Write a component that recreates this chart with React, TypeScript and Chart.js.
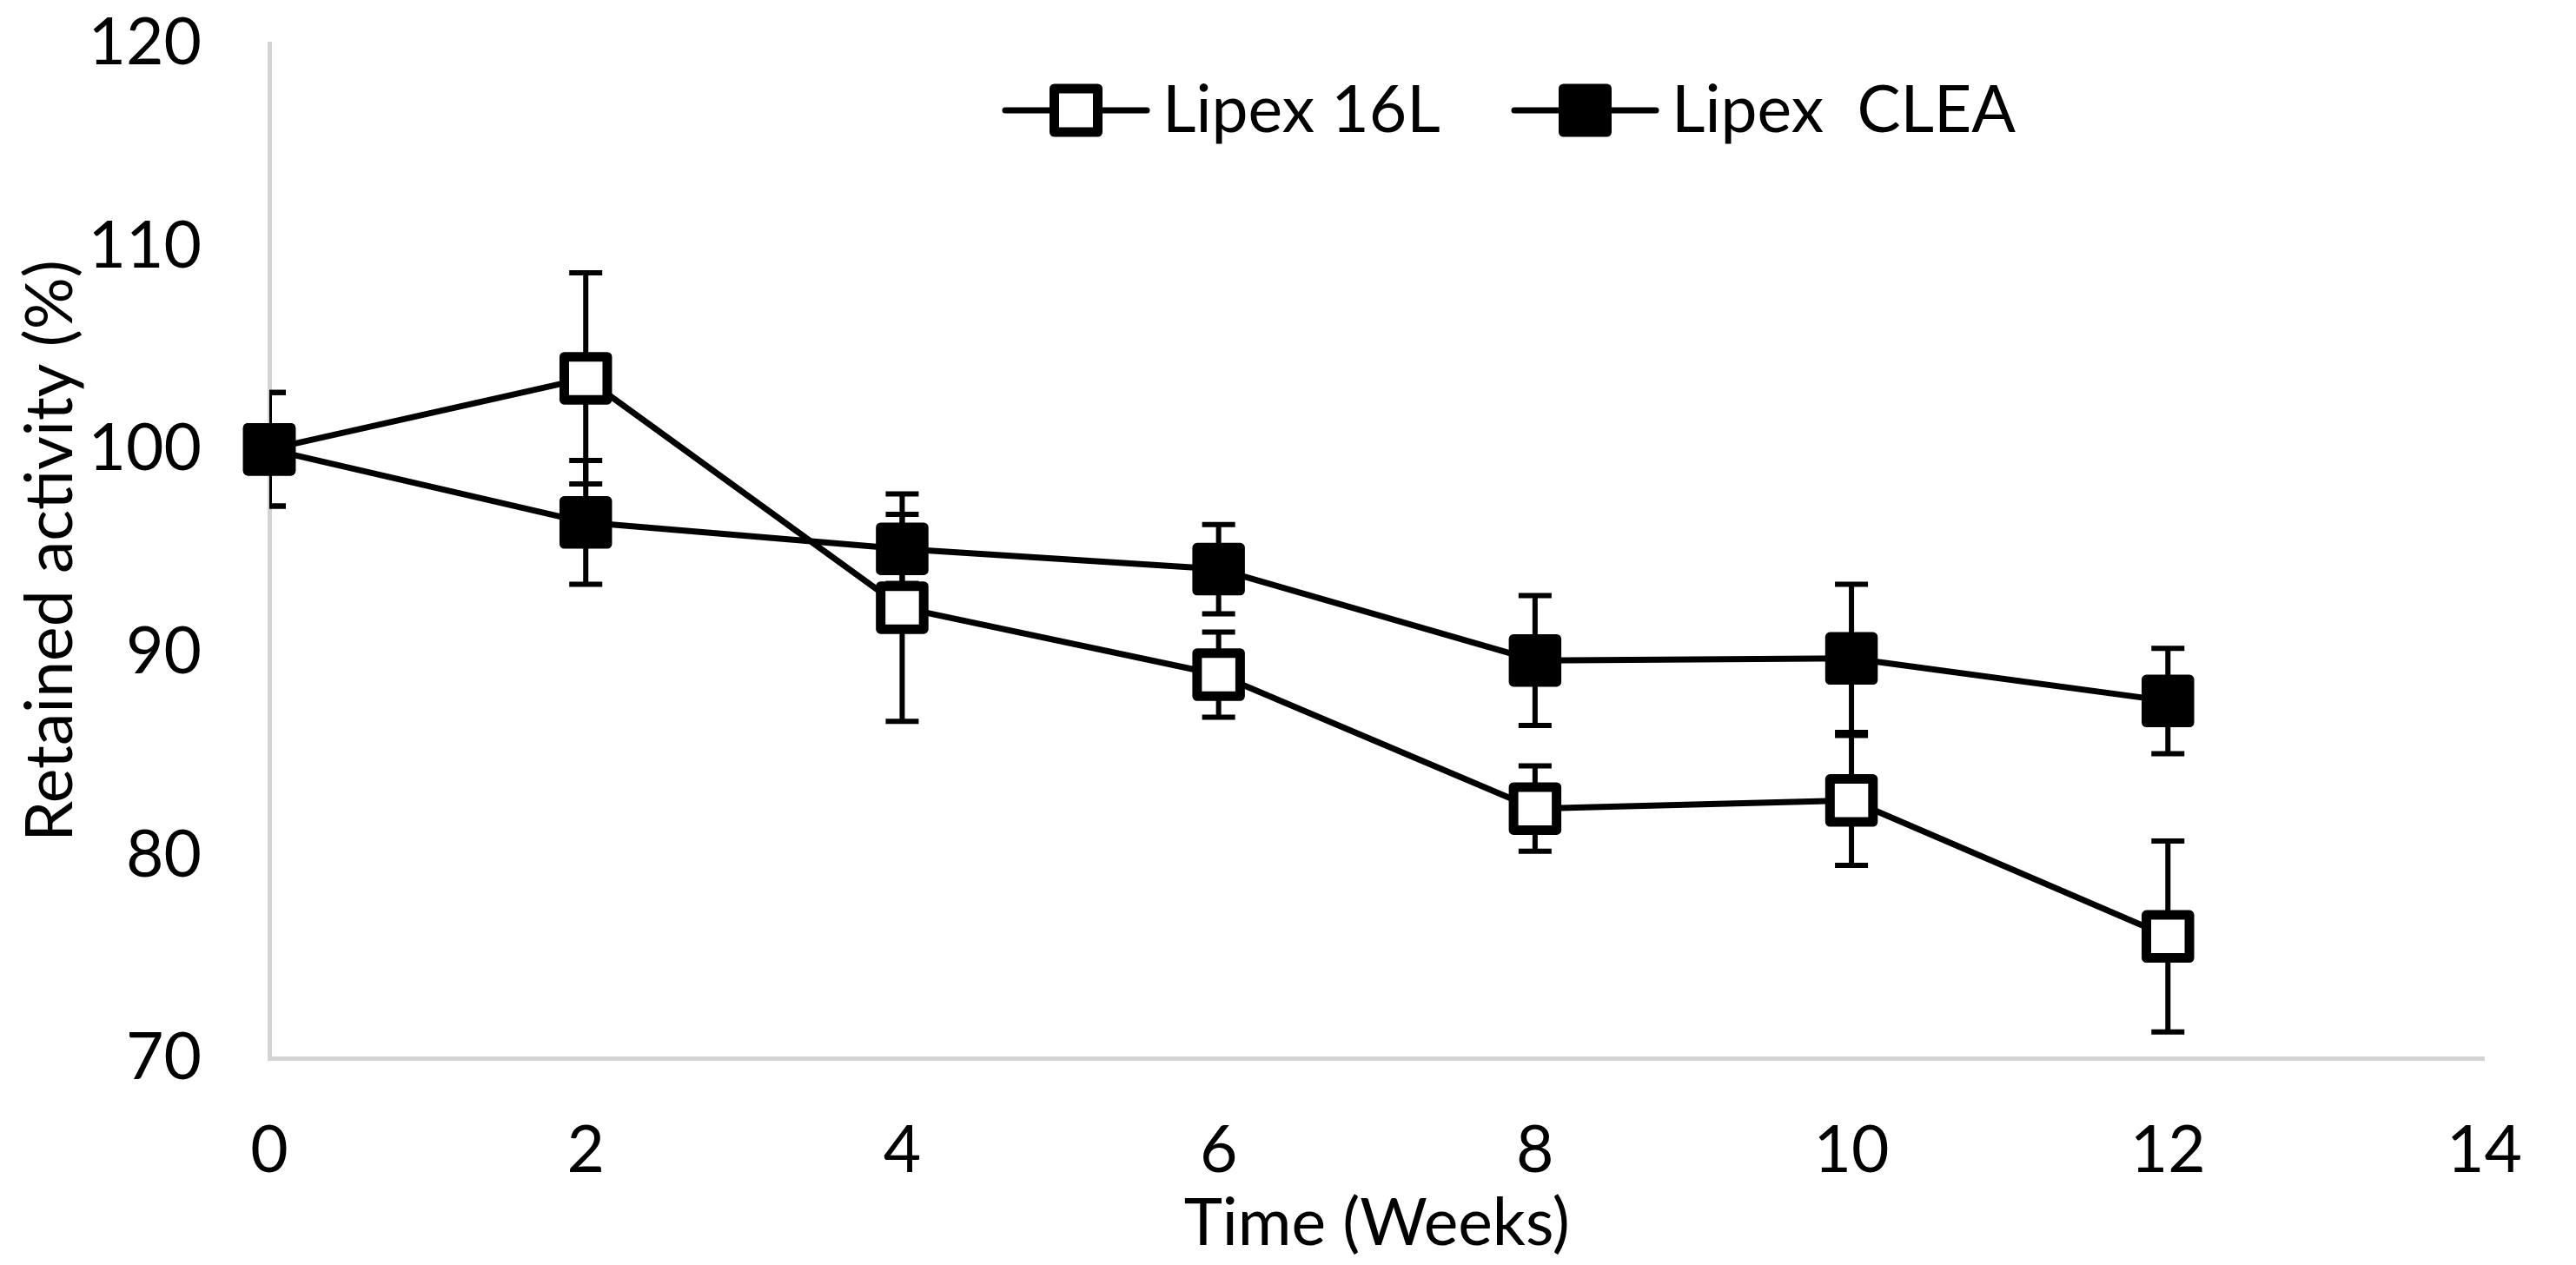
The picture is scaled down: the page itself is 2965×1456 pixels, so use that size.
import { useEffect, useRef } from 'react';
import { Chart, registerables, Plugin } from 'chart.js';

Chart.register(...registerables);

// weeks of storage
const weeks = [0, 2, 4, 6, 8, 10, 12];
// retained activity (%) and std. deviation
const lipex16L = [100, 103.5, 92.2, 88.9, 82.3, 82.7, 76.0];
const lipex16LErr = [2.8, 5.2, 5.6, 2.1, 2.1, 3.2, 4.7];
const lipexClea = [100, 96.4, 95.1, 94.1, 89.6, 89.7, 87.6];
const lipexCleaErr = [2.8, 3.05, 1.7, 2.2, 3.2, 3.65, 2.6];

const seriesNames = ['Lipex 16L', 'Lipex  CLEA'];
const seriesFill = ['#ffffff', '#000000'];
const errors = [lipex16LErr, lipexCleaErr];

const xTitle = 'Time (Weeks)';
const yTitle = 'Retained activity (%)';

const FONT = 'Lato';

const errorBars: Plugin<'line'> = {
  id: 'errorBars',
  beforeDatasetsDraw(chart) {
    const { ctx, chartArea } = chart;
    const xs = chart.scales.x;
    const ys = chart.scales.y;
    ctx.save();
    ctx.beginPath();
    ctx.rect(chartArea.left, 0, chartArea.right - chartArea.left, chart.height);
    ctx.clip();
    ctx.strokeStyle = '#000';
    ctx.lineWidth = 6;
    ctx.lineCap = 'butt';
    chart.data.datasets.forEach((ds, di) => {
      const errs = errors[di];
      (ds.data as { x: number; y: number }[]).forEach((p, i) => {
        const px = xs.getPixelForValue(p.x);
        const top = ys.getPixelForValue(p.y + errs[i]);
        const bot = ys.getPixelForValue(p.y - errs[i]);
        ctx.beginPath();
        ctx.moveTo(px, top);
        ctx.lineTo(px, bot);
        ctx.moveTo(px - 19, top);
        ctx.lineTo(px + 19, top);
        ctx.moveTo(px - 19, bot);
        ctx.lineTo(px + 19, bot);
        ctx.stroke();
      });
    });
    ctx.restore();
    // rounded corners on the square markers
    ctx.lineJoin = 'round';
  },
};

const legendBox: Plugin<'line'> = {
  id: 'legendBox',
  afterDraw(chart) {
    const { ctx, chartArea } = chart;
    const starts = [chartArea.left + 847, chartArea.left + 1433];
    const cy = chartArea.top + 77;
    ctx.save();
    seriesNames.forEach((name, i) => {
      const x0 = starts[i];
      ctx.strokeStyle = '#000';
      ctx.lineWidth = 7;
      ctx.lineCap = 'round';
      ctx.beginPath();
      ctx.moveTo(x0, cy);
      ctx.lineTo(x0 + 163, cy);
      ctx.stroke();
      ctx.lineJoin = 'round';
      ctx.lineWidth = 11;
      ctx.fillStyle = seriesFill[i];
      ctx.beginPath();
      ctx.rect(x0 + 81.5 - 25, cy - 25, 50, 50);
      ctx.fill();
      ctx.stroke();
      ctx.fillStyle = '#000';
      ctx.font = `75px ${FONT}`;
      ctx.textBaseline = 'alphabetic';
      ctx.textAlign = 'left';
      ctx.fillText(name, x0 + 181, cy + 25);
    });
    ctx.restore();
  },
};

export default function App() {
  const canvasRef = useRef<HTMLCanvasElement>(null);

  useEffect(() => {
    document.body.style.margin = '0';
    const canvas = canvasRef.current;
    if (!canvas) return;

    const values = [lipex16L, lipexClea];
    const chart = new Chart(canvas, {
      type: 'line',
      data: {
        datasets: seriesNames.map((name, si) => ({
          label: name,
          data: weeks.map((w, i) => ({ x: w, y: values[si][i] })),
          borderColor: '#000',
          borderWidth: 7,
          borderJoinStyle: 'round' as const,
          backgroundColor: seriesFill[si],
          pointStyle: 'rect' as const,
          pointRadius: 35,
          pointHoverRadius: 35,
          pointBorderWidth: 11,
          pointBackgroundColor: seriesFill[si],
          pointBorderColor: '#000',
          tension: 0,
          clip: false as const,
          order: si === 1 ? 0 : 1,
        })),
      },
      options: {
        animation: false,
        responsive: true,
        maintainAspectRatio: false,
        layout: { padding: { top: 50, right: 74, left: 0, bottom: 0 } },
        plugins: {
          legend: { display: false },
          tooltip: { enabled: false },
        },
        scales: {
          x: {
            type: 'linear',
            min: 0,
            max: 14,
            afterFit(scale) {
              scale.height = 238;
            },
            grid: { display: false, drawTicks: false },
            border: { display: true, color: '#d4d4d4', width: 5 },
            ticks: {
              stepSize: 2,
              padding: 62,
              color: '#000',
              font: { family: FONT, size: 75 },
            },
            title: {
              display: true,
              text: xTitle,
              color: '#000',
              font: { family: FONT, size: 75 },
              padding: { top: 0, bottom: 2 },
            },
          },
          y: {
            type: 'linear',
            min: 70,
            max: 120,
            afterFit(scale) {
              scale.width = 310;
              // tick padding would otherwise push the plot area down
              scale.paddingTop = 40;
              scale.paddingBottom = 40;
            },
            grid: { display: false, drawTicks: false },
            border: { display: true, color: '#d4d4d4', width: 5 },
            ticks: {
              stepSize: 10,
              padding: 78,
              color: '#000',
              font: { family: FONT, size: 75 },
            },
            title: {
              display: true,
              text: yTitle,
              color: '#000',
              font: { family: FONT, size: 75 },
              padding: { top: 14, bottom: 0 },
            },
          },
        },
      },
      plugins: [errorBars, legendBox],
    });

    return () => {
      chart.destroy();
    };
  }, []);

  return (
    <div style={{ position: 'relative', width: '2965px', height: '1456px' }}>
      <canvas ref={canvasRef} />
    </div>
  );
}
